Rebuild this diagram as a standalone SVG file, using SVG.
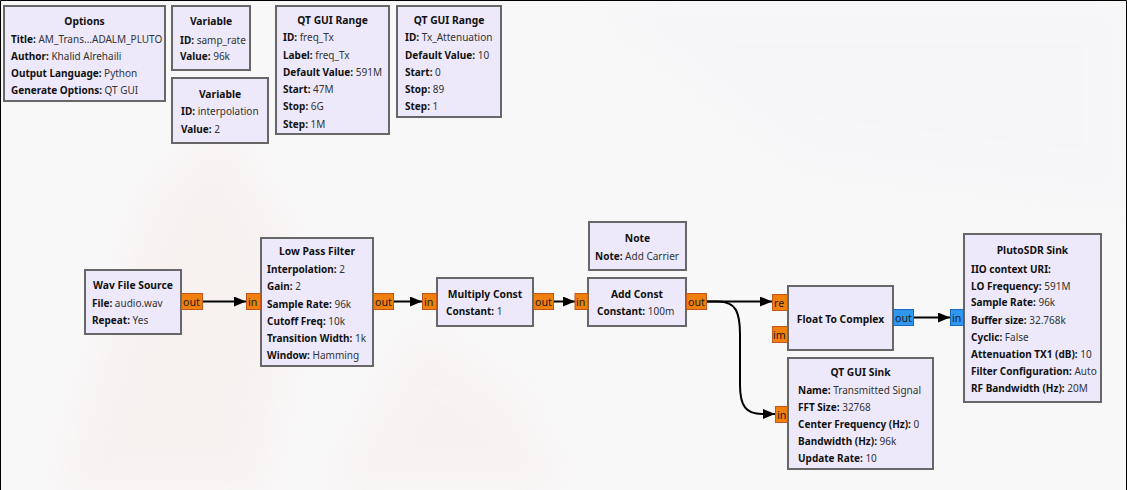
<svg xmlns="http://www.w3.org/2000/svg" width="1127" height="490" viewBox="0 0 1127 490">
  <style>
    text { font-family: "Noto Sans", "DejaVu Sans", sans-serif; font-size: 10px; fill: #222; }
    .blk { fill: #ede9fa; stroke: #676767; stroke-width: 2; }
    .ttl { font-weight: bold; text-anchor: middle; fill: #111; font-size: 10.3px; }
    .k { font-weight: bold; fill: #111; }
    .v { fill: #333; }
    .pf { fill: #f07f0c; stroke: #c2561d; stroke-width: 1; }
    .pc { fill: #2f97f0; stroke: #1c69c0; stroke-width: 1; }
    .pt { font-size: 10.6px; fill: #1a1a1a; }
    .wire { fill: none; stroke: #000; stroke-width: 2; marker-end: url(#arr); }
  </style>
  <defs>
    <marker id="arr" viewBox="0 0 12 10" refX="12" refY="5" markerWidth="12" markerHeight="10" markerUnits="userSpaceOnUse" orient="auto">
      <path d="M0,0 L12,5 L0,10 Z" fill="#000"/>
    </marker>
    <filter id="haze" x="-20%" y="-20%" width="140%" height="140%">
      <feGaussianBlur stdDeviation="18"/>
    </filter>
  </defs>

  <!-- canvas -->
  <rect x="0" y="0" width="1127" height="490" fill="#f9f8f9"/>
  <g filter="url(#haze)" opacity="0.14">
    <path d="M60,490 L150,200 L220,130 L300,260 L260,490 Z" fill="#f0c8bd"/>
    <path d="M330,490 L420,330 L520,400 L560,490 Z" fill="#f0d2c8"/>
    <path d="M600,0 L1127,0 L1127,200 L800,160 Z" fill="#e4e8f2"/>
  </g>
  <path d="M0.5,490 V0.5 H1126.5 V490" fill="none" stroke="#000" stroke-width="1"/>

  <!-- connectors -->
  <g id="connections">
    <path class="wire" d="M203,301.5 H246"/>
    <path class="wire" d="M394,301.5 H422"/>
    <path class="wire" d="M554,301.5 H575"/>
    <path class="wire" d="M706,301.5 H772"/>
    <path class="wire" d="M706,301.5 H718 C736,301.5 740,312 740,335 V385 C740,406 746,414 762,414 H775"/>
    <path class="wire" d="M914,317.5 H950"/>
  </g>

  <!-- Options -->
  <g id="options">
    <rect class="blk" x="4" y="6" width="161" height="95"/>
    <text class="ttl" x="84.5" y="24.5">Options</text>
    <text x="11" y="43"><tspan class="k">Title:</tspan> <tspan class="v">AM_Trans...ADALM_PLUTO</tspan></text>
    <text x="11" y="60"><tspan class="k">Author:</tspan> <tspan class="v">Khalid Alrehaili</tspan></text>
    <text x="11" y="76.5"><tspan class="k">Output Language:</tspan> <tspan class="v">Python</tspan></text>
    <text x="11" y="93.5"><tspan class="k">Generate Options:</tspan> <tspan class="v">QT GUI</tspan></text>
  </g>

  <!-- Variable samp_rate -->
  <g id="var_samp_rate">
    <rect class="blk" x="172" y="6" width="78" height="64"/>
    <text class="ttl" x="211" y="25">Variable</text>
    <text x="180" y="43.5"><tspan class="k">ID:</tspan> <tspan class="v">samp_rate</tspan></text>
    <text x="180" y="60"><tspan class="k">Value:</tspan> <tspan class="v">96k</tspan></text>
  </g>

  <!-- Variable interpolation -->
  <g id="var_interpolation">
    <rect class="blk" x="172" y="78" width="96" height="65"/>
    <text class="ttl" x="220" y="97.5">Variable</text>
    <text x="181" y="115"><tspan class="k">ID:</tspan> <tspan class="v">interpolation</tspan></text>
    <text x="181" y="132.5"><tspan class="k">Value:</tspan> <tspan class="v">2</tspan></text>
  </g>

  <!-- QT GUI Range freq_Tx -->
  <g id="range_freq_tx">
    <rect class="blk" x="276" y="6" width="113" height="128"/>
    <text class="ttl" x="332.5" y="24">QT GUI Range</text>
    <text x="283" y="41"><tspan class="k">ID:</tspan> <tspan class="v">freq_Tx</tspan></text>
    <text x="283" y="58.5"><tspan class="k">Label:</tspan> <tspan class="v">freq_Tx</tspan></text>
    <text x="283" y="76"><tspan class="k">Default Value:</tspan> <tspan class="v">591M</tspan></text>
    <text x="283" y="93"><tspan class="k">Start:</tspan> <tspan class="v">47M</tspan></text>
    <text x="283" y="110"><tspan class="k">Stop:</tspan> <tspan class="v">6G</tspan></text>
    <text x="283" y="127.5"><tspan class="k">Step:</tspan> <tspan class="v">1M</tspan></text>
  </g>

  <!-- QT GUI Range Tx_Attenuation -->
  <g id="range_tx_attenuation">
    <rect class="blk" x="397" y="6" width="104" height="111"/>
    <text class="ttl" x="449" y="24">QT GUI Range</text>
    <text x="405" y="41"><tspan class="k">ID:</tspan> <tspan class="v">Tx_Attenuation</tspan></text>
    <text x="405" y="58.5"><tspan class="k">Default Value:</tspan> <tspan class="v">10</tspan></text>
    <text x="405" y="76"><tspan class="k">Start:</tspan> <tspan class="v">0</tspan></text>
    <text x="405" y="93"><tspan class="k">Stop:</tspan> <tspan class="v">89</tspan></text>
    <text x="405" y="110"><tspan class="k">Step:</tspan> <tspan class="v">1</tspan></text>
  </g>

  <!-- Wav File Source -->
  <g id="wav_file_source">
    <rect class="blk" x="85" y="270" width="96" height="64"/>
    <text class="ttl" x="133" y="289">Wav File Source</text>
    <text x="92" y="307"><tspan class="k">File:</tspan> <tspan class="v">audio.wav</tspan></text>
    <text x="92" y="324"><tspan class="k">Repeat:</tspan> <tspan class="v">Yes</tspan></text>
    <rect class="pf" x="181.5" y="293.5" width="21" height="16"/>
    <text class="pt" x="183" y="306">out</text>
  </g>

  <!-- Low Pass Filter -->
  <g id="low_pass_filter">
    <rect class="blk" x="261" y="238" width="112" height="128"/>
    <text class="ttl" x="317" y="255">Low Pass Filter</text>
    <text x="267" y="273"><tspan class="k">Interpolation:</tspan> <tspan class="v">2</tspan></text>
    <text x="267" y="290"><tspan class="k">Gain:</tspan> <tspan class="v">2</tspan></text>
    <text x="267" y="307.5"><tspan class="k">Sample Rate:</tspan> <tspan class="v">96k</tspan></text>
    <text x="267" y="324.5"><tspan class="k">Cutoff Freq:</tspan> <tspan class="v">10k</tspan></text>
    <text x="267" y="341.5"><tspan class="k">Transition Width:</tspan> <tspan class="v">1k</tspan></text>
    <text x="267" y="358.5"><tspan class="k">Window:</tspan> <tspan class="v">Hamming</tspan></text>
    <rect class="pf" x="246.5" y="293.5" width="14" height="16"/>
    <text class="pt" x="248" y="306">in</text>
    <rect class="pf" x="373.5" y="293.5" width="20" height="16"/>
    <text class="pt" x="375" y="306">out</text>
  </g>

  <!-- Multiply Const -->
  <g id="multiply_const">
    <rect class="blk" x="437" y="278" width="96" height="48"/>
    <text class="ttl" x="485" y="297.5">Multiply Const</text>
    <text x="446" y="315"><tspan class="k">Constant:</tspan> <tspan class="v">1</tspan></text>
    <rect class="pf" x="422.5" y="293.5" width="14" height="16"/>
    <text class="pt" x="424" y="306">in</text>
    <rect class="pf" x="533.5" y="293.5" width="20" height="16"/>
    <text class="pt" x="535" y="306">out</text>
  </g>

  <!-- Note -->
  <g id="note_add_carrier">
    <rect class="blk" x="589" y="222" width="97" height="48"/>
    <text class="ttl" x="637.5" y="241.5">Note</text>
    <text x="595" y="259.5"><tspan class="k">Note:</tspan> <tspan class="v">Add Carrier</tspan></text>
  </g>

  <!-- Add Const -->
  <g id="add_const">
    <rect class="blk" x="588" y="278" width="98" height="48"/>
    <text class="ttl" x="637" y="297.5">Add Const</text>
    <text x="597" y="315"><tspan class="k">Constant:</tspan> <tspan class="v">100m</tspan></text>
    <rect class="pf" x="575" y="293.5" width="13" height="16"/>
    <text class="pt" x="576" y="306">in</text>
    <rect class="pf" x="686.5" y="293.5" width="20" height="16"/>
    <text class="pt" x="688" y="306">out</text>
  </g>

  <!-- Float To Complex -->
  <g id="float_to_complex">
    <rect class="blk" x="788" y="286" width="105" height="64"/>
    <text class="ttl" x="840.5" y="322.5">Float To Complex</text>
    <rect class="pf" x="772.5" y="294.5" width="15" height="16"/>
    <text class="pt" x="774" y="307">re</text>
    <rect class="pf" x="772.5" y="326.5" width="15" height="16"/>
    <text class="pt" x="773" y="339">im</text>
    <rect class="pc" x="893.5" y="309.5" width="20" height="16"/>
    <text class="pt" x="895" y="322">out</text>
  </g>

  <!-- QT GUI Sink -->
  <g id="qtgui_sink">
    <rect class="blk" x="788" y="358" width="145" height="111"/>
    <text class="ttl" x="860.5" y="376">QT GUI Sink</text>
    <text x="798" y="393.5"><tspan class="k">Name:</tspan> <tspan class="v">Transmitted Signal</tspan></text>
    <text x="798" y="411"><tspan class="k">FFT Size:</tspan> <tspan class="v">32768</tspan></text>
    <text x="798" y="428"><tspan class="k">Center Frequency (Hz):</tspan> <tspan class="v">0</tspan></text>
    <text x="798" y="445"><tspan class="k">Bandwidth (Hz):</tspan> <tspan class="v">96k</tspan></text>
    <text x="798" y="461.5"><tspan class="k">Update Rate:</tspan> <tspan class="v">10</tspan></text>
    <rect class="pf" x="775.5" y="406.5" width="12" height="16"/>
    <text class="pt" x="777" y="419">in</text>
  </g>

  <!-- PlutoSDR Sink -->
  <g id="pluto_sink">
    <rect class="blk" x="964" y="234" width="137" height="168"/>
    <text class="ttl" x="1032.5" y="254">PlutoSDR Sink</text>
    <text x="971" y="272.5"><tspan class="k">IIO context URI:</tspan></text>
    <text x="971" y="289.5"><tspan class="k">LO Frequency:</tspan> <tspan class="v">591M</tspan></text>
    <text x="971" y="306"><tspan class="k">Sample Rate:</tspan> <tspan class="v">96k</tspan></text>
    <text x="971" y="323.5"><tspan class="k">Buffer size:</tspan> <tspan class="v">32.768k</tspan></text>
    <text x="971" y="341"><tspan class="k">Cyclic:</tspan> <tspan class="v">False</tspan></text>
    <text x="971" y="357.5"><tspan class="k">Attenuation TX1 (dB):</tspan> <tspan class="v">10</tspan></text>
    <text x="971" y="374.5"><tspan class="k">Filter Configuration:</tspan> <tspan class="v">Auto</tspan></text>
    <text x="971" y="391.5"><tspan class="k">RF Bandwidth (Hz):</tspan> <tspan class="v">20M</tspan></text>
    <rect class="pc" x="950.5" y="309.5" width="13" height="16"/>
    <text class="pt" x="952" y="322">in</text>
  </g>
</svg>
